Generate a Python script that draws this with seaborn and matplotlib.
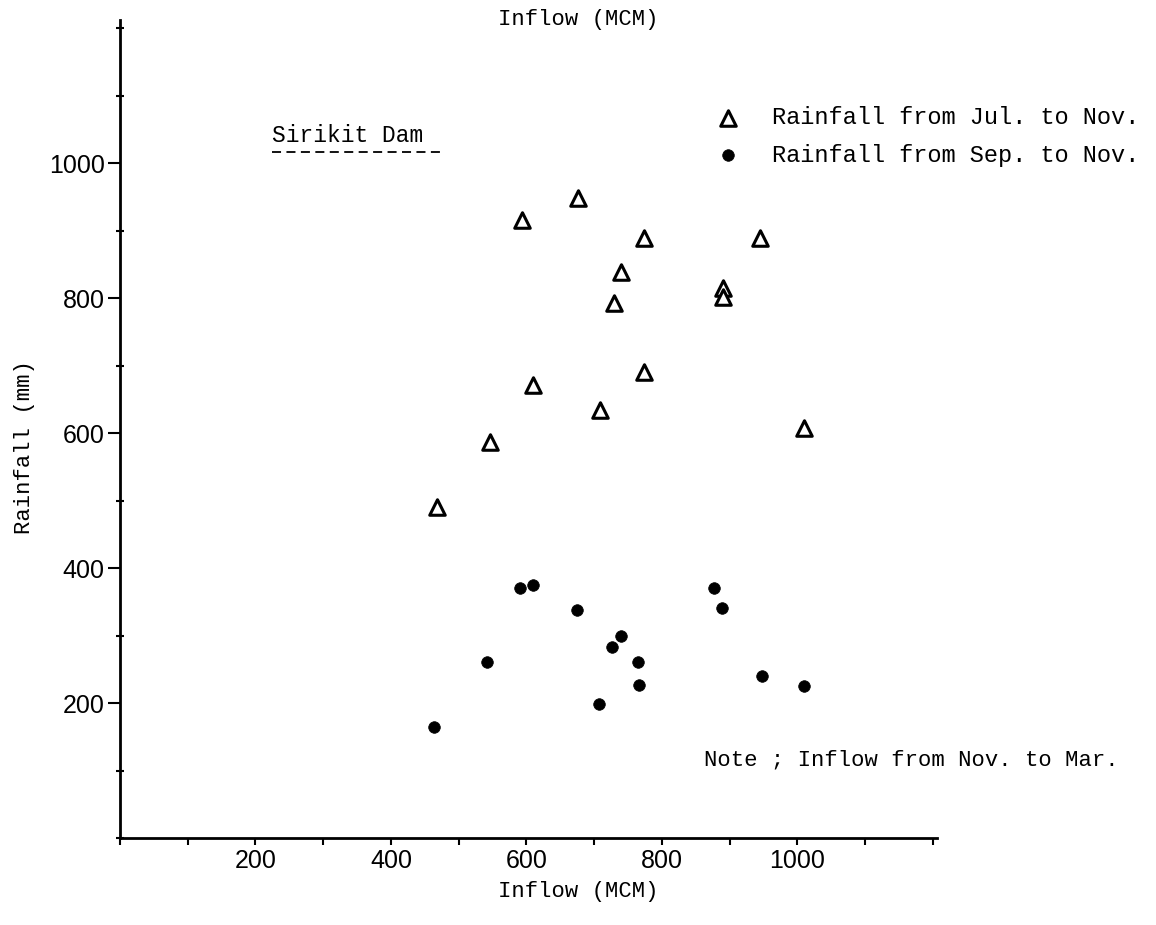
import matplotlib
matplotlib.use("Agg")
import matplotlib.pyplot as plt
import seaborn as sns
import pandas as pd
import numpy as np
from matplotlib.ticker import MultipleLocator

# ---- data ----
jul_inflow = [468, 546, 593, 610, 676, 708, 729, 739, 773, 773, 890, 890, 945, 1010]
jul_rain = [490, 587, 916, 671, 948, 634, 793, 839, 889, 690, 815, 801, 889, 607]
sep_inflow = [464, 542, 591, 609, 674, 707, 726, 739, 764, 766, 877, 888, 947, 1010]
sep_rain = [164, 261, 370, 375, 338, 199, 283, 299, 261, 227, 370, 341, 240, 225]
x_ticks = [200, 400, 600, 800, 1000]
y_ticks = [200, 400, 600, 800, 1000]
label_jul = "Rainfall from Jul. to Nov."
label_sep = "Rainfall from Sep. to Nov."

df_jul = pd.DataFrame({"Inflow": jul_inflow, "Rainfall": jul_rain})
df_sep = pd.DataFrame({"Inflow": sep_inflow, "Rainfall": sep_rain})

sns.set_theme(style="white")
mono = ["Liberation Mono", "DejaVu Sans Mono"]
narrow = ["Liberation Sans Narrow", "Liberation Sans", "DejaVu Sans"]
plt.rcParams["font.family"] = mono

W, H = 1156, 925
fig = plt.figure(figsize=(W / 100, H / 100), dpi=100)
L, R, T, B = 120, 937, 20, 838
ax = fig.add_axes([L / W, 1 - B / H, (R - L) / W, (B - T) / H])

sns.scatterplot(data=df_jul, x="Inflow", y="Rainfall", ax=ax, marker="^",
                s=125, facecolor="white", edgecolor="black", linewidth=2.2,
                label=label_jul, zorder=3)
sns.scatterplot(data=df_sep, x="Inflow", y="Rainfall", ax=ax, marker="o",
                s=70, color="black", edgecolor="black", linewidth=0.5,
                label=label_sep, zorder=3)

ax.set_xlim(0, 1206)
ax.set_ylim(0, 1212)
ax.set_xlabel("")
ax.set_ylabel("")
for side in ["top", "right"]:
    ax.spines[side].set_visible(False)
for side in ["left", "bottom"]:
    ax.spines[side].set_linewidth(2.0)
    ax.spines[side].set_color("black")

ax.xaxis.set_major_locator(MultipleLocator(200))
ax.xaxis.set_minor_locator(MultipleLocator(100))
ax.yaxis.set_major_locator(MultipleLocator(200))
ax.yaxis.set_minor_locator(MultipleLocator(100))
ax.set_xticks(x_ticks)
ax.set_yticks(y_ticks)
ax.set_xticklabels([str(v) for v in x_ticks], fontfamily=narrow, fontsize=18)
ax.set_yticklabels([str(v) for v in y_ticks], fontfamily=narrow, fontsize=18)
ax.tick_params(axis="x", which="both", direction="out", length=5, width=1.5,
               colors="black", pad=3, bottom=True)
ax.tick_params(axis="y", which="major", direction="out", length=9, width=1.5,
               colors="black", pad=2, left=True)
ax.tick_params(axis="y", which="minor", direction="inout", length=6, width=1.5,
               colors="black", left=True)

leg = ax.legend(loc="upper left", bbox_to_anchor=(714 / W, 1 - 106 / H),
                bbox_transform=fig.transFigure, frameon=False, fontsize=17,
                handlelength=1.2, handletextpad=1.25, labelspacing=0.62,
                borderpad=0, borderaxespad=0)
for t in leg.get_texts():
    t.set_color("black")

# texts
fig.text(578 / W, 1 - 20 / H, "Inflow (MCM)", ha="center", va="center",
         fontsize=16, color="black")
fig.text(578 / W, 1 - 892 / H, "Inflow (MCM)", ha="center", va="center",
         fontsize=16, color="black")
fig.text(25 / W, 1 - 447 / H, "Rainfall (mm)", ha="center", va="center",
         rotation=90, fontsize=16, color="black")
fig.text(272 / W, 1 - 136 / H, "Sirikit Dam", ha="left", va="center",
         fontsize=16.5, color="black")
fig.add_artist(plt.Line2D([272 / W, 443 / W], [1 - 152 / H, 1 - 152 / H],
                          transform=fig.transFigure, color="black",
                          linewidth=1.3, linestyle=(0, (5, 3))))
fig.text(704 / W, 1 - 760 / H, "Note ; Inflow from Nov. to Mar.", ha="left",
         va="center", fontsize=16, color="black")

fig.savefig("out.png", dpi=100, facecolor="white")
